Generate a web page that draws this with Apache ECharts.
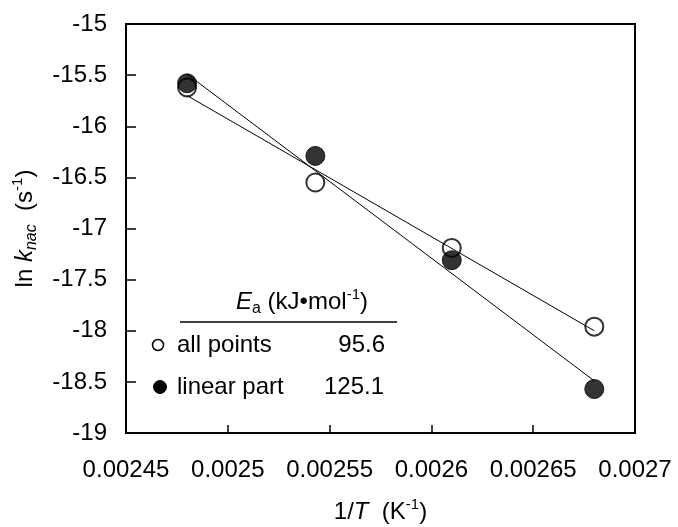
<!DOCTYPE html>
<html>
<head>
<meta charset="utf-8">
<script src="https://cdn.jsdelivr.net/npm/echarts@6/dist/echarts.min.js"></script>
<style>
html,body{margin:0;padding:0;background:#fff;}
#c{width:678px;height:527px;}
</style>
</head>
<body>
<div id="c"></div>
<script>
// ---- data ----
var invT = [0.002480, 0.002543, 0.002610, 0.002680];
var allPoints = [-15.62, -16.55, -17.19, -17.96];
var linearPart = [-15.58, -16.29, -17.31, -18.57];
var allFitEnds = [-15.70, -18.00];
var linFitEnds = [-15.49, -18.49];
var xTickLabels = ['0.00245', '0.0025', '0.00255', '0.0026', '0.00265', '0.0027'];
var yTickLabels = ['-19', '-18.5', '-18', '-17.5', '-17', '-16.5', '-16', '-15.5', '-15'];
var legendNames = ['all points', 'linear part'];
var eaValues = ['95.6', '125.1'];

var xMin = 0.00245, xMax = 0.0027, xInt = 0.00005;
var yMin = -19, yMax = -15, yInt = 0.5;
var FONT = 'Liberation Sans, Arial, sans-serif';
var FS = 24;

function pairs(xs, ys) { return xs.map(function (x, i) { return [x, ys[i]]; }); }

var chart = echarts.init(document.getElementById('c'), null, {renderer: 'canvas'});
var option = {
  backgroundColor: '#fff',
  animation: false,
  textStyle: {fontFamily: FONT, color: '#000'},
  grid: {left: 126, right: 43, top: 24, bottom: 94, containLabel: false, outerBoundsMode: 'none',
         show: true, borderColor: '#000', borderWidth: 2, backgroundColor: 'transparent'},
  xAxis: {
    type: 'value', min: xMin, max: xMax, interval: xInt,
    axisLine: {show: true, lineStyle: {color: '#000', width: 2}},
    axisTick: {show: true, inside: true, length: 8, lineStyle: {color: '#000', width: 1.5}},
    splitLine: {show: false},
    axisLabel: {
      margin: 25, fontSize: FS, color: '#000', fontFamily: FONT,
      formatter: function (v) { return xTickLabels[Math.round((v - xMin) / xInt)]; }
    },
    name: '1/{i|T}  (K{sup|-1})',
    nameLocation: 'middle', nameGap: 64,
    nameTextStyle: {
      fontSize: FS, color: '#000', fontFamily: FONT, lineHeight: 30,
      rich: {
        i: {fontSize: FS, fontStyle: 'italic', fontFamily: FONT, lineHeight: 30},
        sup: {fontSize: 15, verticalAlign: 'top', fontFamily: FONT, lineHeight: 16}
      }
    }
  },
  yAxis: {
    type: 'value', min: yMin, max: yMax, interval: yInt,
    axisLine: {show: true, lineStyle: {color: '#000', width: 2}},
    axisTick: {show: true, inside: true, length: 10, lineStyle: {color: '#000', width: 1.5}},
    splitLine: {show: false},
    axisLabel: {
      margin: 19, fontSize: FS, color: '#000', fontFamily: FONT,
      formatter: function (v) { return yTickLabels[Math.round((v - yMin) / yInt)]; }
    },
    name: 'ln {i|k}{sub|nac}  (s{sup|-1})',
    nameLocation: 'middle', nameGap: 86, nameRotate: 90,
    nameTextStyle: {
      fontSize: FS, color: '#000', fontFamily: FONT, lineHeight: 30,
      rich: {
        i: {fontSize: FS, fontStyle: 'italic', fontFamily: FONT, lineHeight: 30},
        sub: {fontSize: 16, fontStyle: 'italic', verticalAlign: 'bottom', fontFamily: FONT, lineHeight: 16},
        sup: {fontSize: 15, verticalAlign: 'top', fontFamily: FONT, lineHeight: 16}
      }
    }
  },
  series: [
    {
      name: legendNames[0], type: 'scatter', symbol: 'circle', symbolSize: 18, z: 2,
      itemStyle: {color: '#fff', borderColor: '#000', borderWidth: 2},
      data: pairs(invT, allPoints)
    },
    {
      name: legendNames[1], type: 'scatter', symbol: 'circle', symbolSize: 19, z: 3,
      itemStyle: {color: '#000', borderColor: '#000', borderWidth: 1},
      data: pairs(invT, linearPart)
    },
    {
      type: 'line', symbol: 'none', z: 4, silent: true,
      lineStyle: {color: '#000', width: 1},
      data: [[invT[0], allFitEnds[0]], [invT[3], allFitEnds[1]]]
    },
    {
      type: 'line', symbol: 'none', z: 4, silent: true,
      lineStyle: {color: '#000', width: 1},
      data: [[invT[0], linFitEnds[0]], [invT[3], linFitEnds[1]]]
    }
  ],
  graphic: [
    {type: 'text', left: 236, top: 287, style: {
      text: '{i|E}{sub|a} (kJ\u2022mol{sup|-1})', fontFamily: FONT, fontSize: FS, fill: '#000',
      rich: {
        i: {fontSize: FS, fontStyle: 'italic', fontFamily: FONT, lineHeight: 30},
        sub: {fontSize: 16, verticalAlign: 'bottom', fontFamily: FONT, lineHeight: 16},
        sup: {fontSize: 15, verticalAlign: 'top', fontFamily: FONT, lineHeight: 16},
        n: {fontSize: FS, fontFamily: FONT, lineHeight: 30}
      }
    }},
    {type: 'line', shape: {x1: 180, y1: 322, x2: 397, y2: 322}, style: {stroke: '#000', lineWidth: 1.5}},
    {type: 'circle', shape: {cx: 158, cy: 345, r: 5.5}, style: {fill: '#fff', stroke: '#000', lineWidth: 1.5}},
    {type: 'text', x: 177, y: 345, style: {text: legendNames[0], fontFamily: FONT, fontSize: FS, fill: '#000', verticalAlign: 'middle', align: 'left'}},
    {type: 'text', x: 385, y: 345, style: {text: eaValues[0], fontFamily: FONT, fontSize: FS, fill: '#000', verticalAlign: 'middle', align: 'right'}},
    {type: 'circle', shape: {cx: 160, cy: 387, r: 6.5}, style: {fill: '#000', stroke: '#000', lineWidth: 1}},
    {type: 'text', x: 177, y: 387, style: {text: legendNames[1], fontFamily: FONT, fontSize: FS, fill: '#000', verticalAlign: 'middle', align: 'left'}},
    {type: 'text', x: 384, y: 387, style: {text: eaValues[1], fontFamily: FONT, fontSize: FS, fill: '#000', verticalAlign: 'middle', align: 'right'}}
  ]
};
chart.setOption(option);
</script>
</body>
</html>
